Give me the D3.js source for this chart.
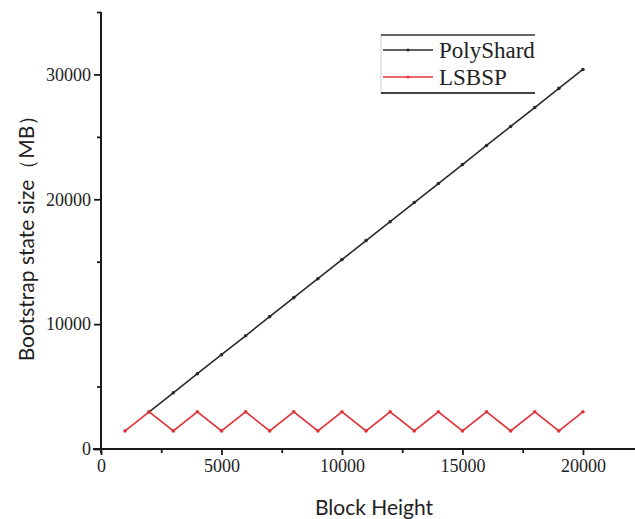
<!DOCTYPE html>
<html><head><meta charset="utf-8">
<script src="https://cdn.jsdelivr.net/npm/d3@7/dist/d3.min.js"></script>
<style>body{margin:0;background:#fff}svg{display:block}</style>
</head><body><svg id="c" width="635" height="519"></svg>
<script>
const blockHeights = [1000,2000,3000,4000,5000,6000,7000,8000,9000,10000,11000,12000,13000,14000,15000,16000,17000,18000,19000,20000];
const polyX = [2000,3000,4000,5000,6000,7000,8000,9000,10000,11000,12000,13000,14000,15000,16000,17000,18000,19000,20000];
const polyShard = [2980,4500,6030,7550,9070,10600,12120,13640,15170,16690,18210,19740,21260,22780,24310,25830,27350,28880,30400];
const lsbsp = [1450,2980,1450,2980,1450,2980,1450,2980,1450,2980,1450,2980,1450,2980,1450,2980,1450,2980,1450,2980];
const xTicks = [0,5000,10000,15000,20000];
const xMinor = [2500,7500,12500,17500];
const yTicks = [0,10000,20000,30000];
const yMinor = [5000,15000,25000,35000];
const seriesNames = ["PolyShard","LSBSP"];
const colors = ["#2a2a2a","#e2343a"];

const svg = d3.select("#c");
const x = d3.scaleLinear().domain([0,22160]).range([101,635]);
const y = d3.scaleLinear().domain([0,35000]).range([449,12]);
const axisColor = "#1a1a1a";

// x axis
const gx = svg.append("g").attr("transform","translate(0,449)");
gx.call(d3.axisBottom(x).tickValues(xTicks).tickSize(6).tickPadding(4).tickFormat(d3.format("d")));
gx.append("g").call(d3.axisBottom(x).tickValues(xMinor).tickSize(4).tickFormat(""));
gx.selectAll(".domain").remove();
gx.append("line").attr("x1",93).attr("x2",635).attr("stroke",axisColor).attr("stroke-width",2);
gx.selectAll(".tick line").attr("stroke",axisColor).attr("stroke-width",1.8);
gx.selectAll(".tick text").attr("font-family","Liberation Serif").attr("font-size",18).attr("fill","#222");

// y axis
const gy = svg.append("g").attr("transform","translate(101,0)");
gy.call(d3.axisLeft(y).tickValues(yTicks).tickSize(7).tickPadding(3).tickFormat(d3.format("d")));
gy.append("g").call(d3.axisLeft(y).tickValues(yMinor).tickSize(4).tickFormat(""));
gy.selectAll(".domain").remove();
gy.append("line").attr("y1",12).attr("y2",453).attr("stroke",axisColor).attr("stroke-width",2);
gy.selectAll(".tick line").attr("stroke",axisColor).attr("stroke-width",1.8);
gy.selectAll(".tick text").attr("font-family","Liberation Serif").attr("font-size",18).attr("fill","#222");

// lines
const line = d3.line().x(d=>x(d[0])).y(d=>y(d[1]));
const polyData = polyX.map((v,i)=>[v,polyShard[i]]);
const lsData = blockHeights.map((v,i)=>[v,lsbsp[i]]);
[[polyData,colors[0]],[lsData,colors[1]]].forEach(([data,col])=>{
  svg.append("path").datum(data).attr("d",line).attr("fill","none").attr("stroke",col).attr("stroke-width",1.6);
  svg.append("g").selectAll("circle").data(data).join("circle")
    .attr("cx",d=>x(d[0])).attr("cy",d=>y(d[1])).attr("r",1.8).attr("fill",col);
});

// axis titles
svg.append("text").attr("x",374).attr("y",515).attr("text-anchor","middle")
  .attr("font-family","Lato").attr("font-size",21).attr("fill","#222").text("Block Height");
svg.append("text").attr("transform","translate(34,233) rotate(-90)").attr("text-anchor","middle")
  .attr("font-family","Lato").attr("font-size",21).attr("fill","#222").text("Bootstrap state size（MB）");

// legend
const lg = svg.append("g");
lg.append("line").attr("x1",381).attr("x2",381).attr("y1",35).attr("y2",93).attr("stroke","#ccc").attr("stroke-width",1);
lg.append("line").attr("x1",381).attr("x2",535).attr("y1",35).attr("y2",35).attr("stroke","#666").attr("stroke-width",2);
lg.append("line").attr("x1",381).attr("x2",535).attr("y1",93).attr("y2",93).attr("stroke","#444").attr("stroke-width",2);
seriesNames.forEach((n,i)=>{
  const yy = [50,77][i];
  lg.append("line").attr("x1",383).attr("x2",433).attr("y1",yy).attr("y2",yy).attr("stroke",colors[i]).attr("stroke-width",1.5);
  lg.append("circle").attr("cx",408).attr("cy",yy).attr("r",1.5).attr("fill",colors[i]);
  lg.append("text").attr("x",439).attr("y",yy+8).attr("font-family","Liberation Serif").attr("font-size",23).attr("fill","#222").text(n);
});
</script></body></html>
